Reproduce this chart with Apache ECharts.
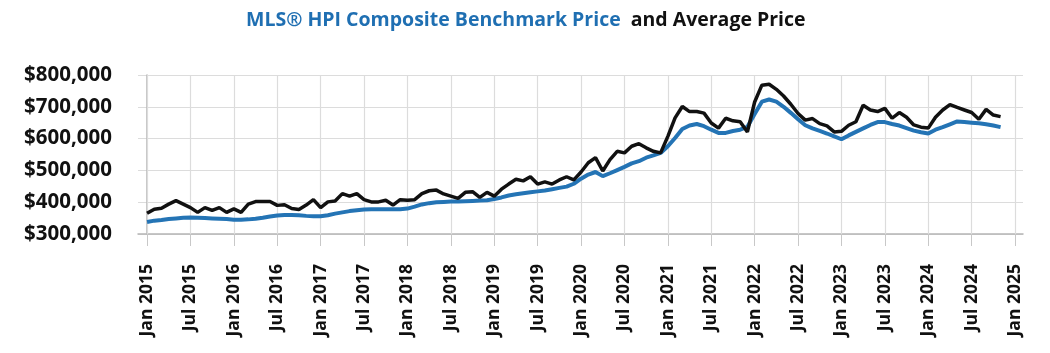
<!DOCTYPE html>
<html>
<head>
<meta charset="utf-8">
<script src="https://cdn.jsdelivr.net/npm/echarts@6/dist/echarts.min.js"></script>
<style>
  html, body { margin: 0; padding: 0; background: #fff; }
  #main { width: 1050px; height: 353px; }
</style>
</head>
<body>
<div id="main"></div>
<script>
// monthly values in $ thousands, Jan 2015 .. Nov 2024 (index 0 = Jan 2015)
var benchmarkPrice = [
  338, 342, 344, 347, 349, 351, 352, 351, 350, 349,
  348, 347, 345, 345, 346, 348, 351, 355, 358, 360,
  360, 359, 357, 356, 356, 359, 364, 368, 372, 375,
  377, 378, 378, 378, 378, 378, 380, 386, 393, 397,
  400, 401, 402, 402, 403, 404, 405, 406, 410, 415,
  421, 425, 428, 431, 434, 437, 441, 445, 449, 458,
  474, 487, 495, 482, 491, 501, 511, 522, 529, 540,
  547, 555, 576, 602, 630, 641, 646, 639, 628, 618,
  618, 624, 628, 637, 677, 716, 723, 716, 700, 681,
  661, 642, 632, 624, 616, 607, 598, 610, 621, 632,
  643, 652, 652, 646, 641, 633, 625, 620, 616, 628,
  636, 645, 654, 652, 650, 648, 645, 641, 636
];
var averagePrice = [
  365, 378, 381, 394, 405, 394, 383, 368, 383, 374,
  383, 368, 379, 368, 394, 402, 402, 402, 390, 392,
  380, 377, 391, 408, 383, 401, 404, 427, 419, 427,
  408, 401, 401, 406, 391, 408, 406, 408, 427, 436,
  438, 426, 419, 412, 431, 433, 415, 431, 419, 441,
  457, 472, 467, 480, 457, 464, 457, 470, 480, 470,
  495, 524, 540, 498, 534, 560, 555, 576, 584, 571,
  560, 555, 607, 665, 701, 685, 685, 680, 649, 633,
  664, 656, 653, 621, 715, 768, 771, 755, 734, 708,
  679, 658, 663, 647, 640, 621, 623, 642, 653, 705,
  690, 685, 695, 664, 682, 667, 643, 636, 633, 667,
  690, 707, 698, 690, 682, 661, 692, 674, 669
];
var tickLabels = [
  'Jan 2015', 'Jul 2015', 'Jan 2016', 'Jul 2016', 'Jan 2017', 'Jul 2017',
  'Jan 2018', 'Jul 2018', 'Jan 2019', 'Jul 2019', 'Jan 2020', 'Jul 2020',
  'Jan 2021', 'Jul 2021', 'Jan 2022', 'Jul 2022', 'Jan 2023', 'Jul 2023',
  'Jan 2024', 'Jul 2024', 'Jan 2025'
];

// one tick every 6 months
var tickMonths = tickLabels.map(function (t, i) { return i * 6; });

var chart = echarts.init(document.getElementById('main'));

var option = {
  animation: false,
  title: {
    text: '{b|MLS® HPI Composite Benchmark Price}  {k|and Average Price}',
    left: 241,
    top: 5,
    textStyle: {
      rich: {
        b: { color: '#1f6fb2', fontSize: 19.5, fontWeight: 'bold', fontFamily: 'Open Sans' },
        k: { color: '#111', fontSize: 19.5, fontWeight: 'bold', fontFamily: 'Open Sans' }
      }
    }
  },
  grid: { left: 138, right: 27, top: 75, bottom: 119 },
  xAxis: {
    type: 'value',
    min: -1.25,
    max: 121.1,
    axisLine: { lineStyle: { color: '#b5b5b5', width: 1.5 } },
    axisTick: { show: true, length: 12, customValues: tickMonths, lineStyle: { color: '#c8c8c8' } },
    axisLabel: {
      customValues: tickMonths,
      rotate: 90,
      margin: 30,
      color: '#111',
      fontSize: 17.5,
      fontWeight: 'bold',
      fontFamily: 'Open Sans',
      formatter: function (v) { return tickLabels[Math.round(v / 6)]; }
    },
    splitLine: { show: false }
  },
  yAxis: {
    type: 'value',
    min: 300000,
    max: 800000,
    interval: 100000,
    axisLine: { show: true, lineStyle: { color: '#b5b5b5', width: 1.5 } },
    axisTick: { show: false },
    axisLabel: {
      margin: 26,
      color: '#111',
      fontSize: 20.5,
      fontWeight: 'bold',
      fontFamily: 'Open Sans',
      formatter: function (v) { return '$' + v.toLocaleString('en-US'); }
    },
    splitLine: { show: true, lineStyle: { color: '#dcdcdc', width: 1.2 } }
  },
  series: [
    {
      name: 'MLS® HPI Composite Benchmark Price',
      type: 'line',
      showSymbol: false,
      lineStyle: { color: '#2474b5', width: 4 },
      data: benchmarkPrice.map(function (v, i) { return [i, v * 1000]; }),
      // vertical grid lines at the half-year ticks
      markLine: {
        silent: true,
        symbol: 'none',
        label: { show: false },
        lineStyle: { color: '#dcdcdc', width: 1.2, type: 'solid' },
        data: tickMonths.map(function (m) { return { xAxis: m }; }),
        z: 1
      },
      z: 3
    },
    {
      name: 'Average Price',
      type: 'line',
      showSymbol: false,
      lineStyle: { color: '#111', width: 3.5 },
      data: averagePrice.map(function (v, i) { return [i, v * 1000]; }),
      z: 4
    }
  ]
};

chart.setOption(option);
</script>
</body>
</html>
